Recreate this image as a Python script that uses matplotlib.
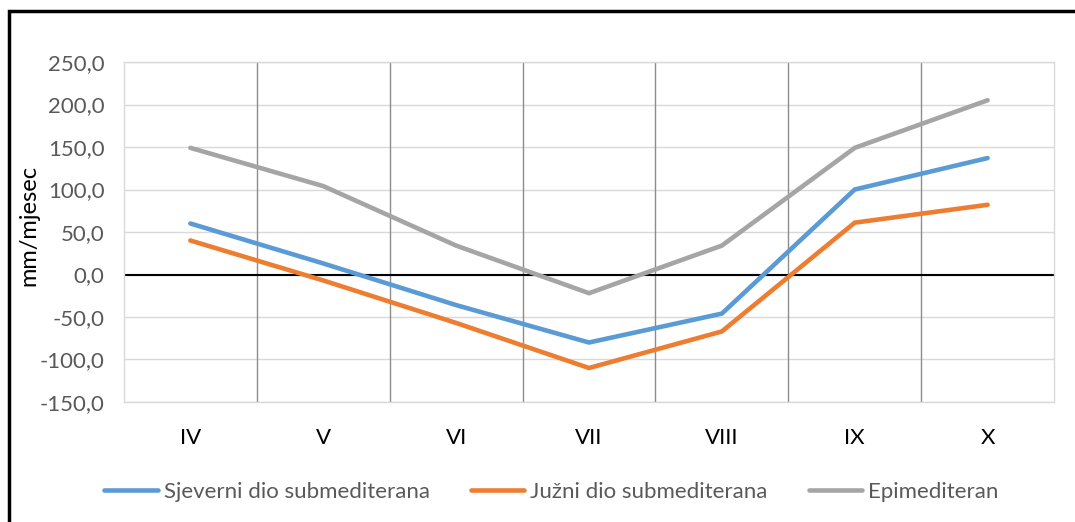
import matplotlib.pyplot as plt
from matplotlib.patches import Rectangle
from matplotlib.ticker import FuncFormatter

plt.rcParams["font.family"] = ["Lato", "DejaVu Sans"]

months = ["IV", "V", "VI", "VII", "VIII", "IX", "X"]
sjeverni = [60.0, 13.0, -36.0, -80.0, -46.0, 100.0, 137.0]
juzni = [40.0, -7.0, -57.0, -110.0, -67.0, 61.0, 82.0]
epimed = [149.0, 104.0, 34.0, -22.0, 34.0, 149.0, 205.0]
labels = ["Sjeverni dio submediterana", "Južni dio submediterana", "Epimediteran"]
colors = ["#5b9bd5", "#ed7d31", "#a5a5a5"]

fig = plt.figure(figsize=(10.75, 5.22), dpi=100)
ax = fig.add_axes([0.1153, 0.2299, 0.8652, 0.6513])

x = range(len(months))
for vals, lab, col in zip([sjeverni, juzni, epimed], labels, colors):
    ax.plot(x, vals, color=col, linewidth=3.3, label=lab, zorder=3,
            solid_capstyle="round", solid_joinstyle="miter")

ax.set_xlim(-0.5, len(months) - 0.5)
ax.set_ylim(-150, 250)
ax.set_yticks(range(-150, 251, 50))
ax.yaxis.set_major_formatter(FuncFormatter(lambda v, p: f"{v:.1f}".replace(".", ",")))
ax.set_xticks(list(x))
ax.set_xticklabels(months)

# grid: light horizontal, darker vertical separators between months
ax.grid(axis="y", color="#d9d9d9", linewidth=1)
for b in range(1, len(months)):
    ax.axvline(b - 0.5, color="#8c8c8c", linewidth=1, zorder=1)
ax.axhline(0, color="black", linewidth=1.5, zorder=2)
ax.set_axisbelow(True)

for spine in ax.spines.values():
    spine.set_edgecolor("#d9d9d9")
    spine.set_linewidth(1)
ax.tick_params(length=0, labelsize=16, colors="#595959")
ax.tick_params(axis="y", pad=14)
ax.tick_params(axis="x", colors="black", pad=19)
for t in ax.get_yticklabels():
    t.set_color("#595959")
ax.set_ylabel("mm/mjesec", fontsize=17, color="black")
ax.yaxis.set_label_coords(-0.091, 0.518)

leg = fig.legend(loc="center", bbox_to_anchor=(0.513, 0.057), ncol=3,
                 frameon=False, fontsize=16, handlelength=2.4,
                 handletextpad=0.27, columnspacing=1.85)
for t in leg.get_texts():
    t.set_color("#595959")

# outer frame (cropped on right and bottom)
fig.patches.append(Rectangle((9 / 1075, -0.1), 1.2, 1 - 11 / 522 + 0.1,
                             transform=fig.transFigure, fill=False,
                             edgecolor="black", linewidth=2.5))

fig.savefig("out.png", dpi=100)
